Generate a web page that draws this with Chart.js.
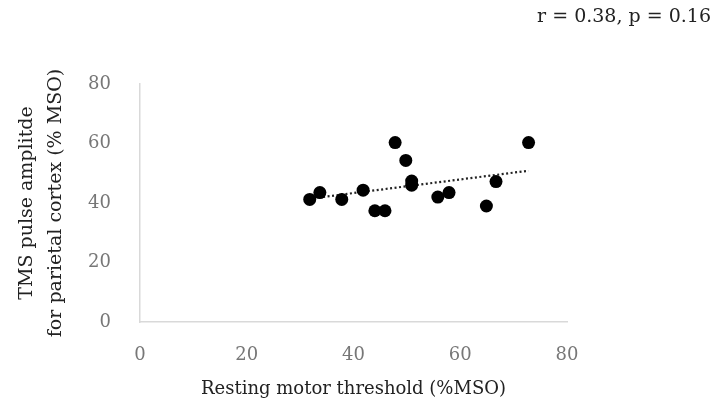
<!DOCTYPE html>
<html>
<head>
<meta charset="utf-8">
<script src="https://cdn.jsdelivr.net/npm/chart.js@4.4.0/dist/chart.umd.min.js"></script>
<style>
  html, body { margin: 0; padding: 0; background: #fff; }
  #wrap { width: 716px; height: 404px; }
</style>
</head>
<body>
<div id="wrap"><canvas id="chart" width="716" height="404"></canvas></div>
<script>
// values
const motorThreshold = [31.8, 33.7, 37.8, 41.8, 44.0, 45.9, 47.8, 49.8, 50.9, 50.9, 55.8, 57.9, 64.9, 66.7, 72.8]
const pulseAmplitude = [41.2, 43.5, 41.2, 44.3, 37.4, 37.4, 60.3, 54.3, 47.4, 46.0, 42.0, 43.5, 39.0, 47.2, 60.3]
const xTicks = [0, 20, 40, 60, 80]
const yTicks = [0, 20, 40, 60, 80]
const statsLabel = "r = 0.38, p = 0.16"
const xTitle = "Resting motor threshold (%MSO)"
const yTitle = ["TMS pulse amplitde", "for parietal cortex (% MSO)"]

const FONT = "'DejaVu Serif', Georgia, serif"

// linear trendline (least squares) over the points
function trendline(xs, ys) {
  const n = xs.length
  const mx = xs.reduce((s, v) => s + v, 0) / n
  const my = ys.reduce((s, v) => s + v, 0) / n
  let num = 0, den = 0
  xs.forEach((x, i) => { num += (x - mx) * (ys[i] - my); den += (x - mx) * (x - mx) })
  const slope = num / den
  const lo = Math.min(...xs), hi = Math.max(...xs)
  return [{ x: lo, y: my + slope * (lo - mx) }, { x: hi, y: my + slope * (hi - mx) }]
}

// stats text sits in the top right corner of the canvas, outside the plot
const statsText = {
  id: "statsText",
  afterDraw(chart) {
    const ctx = chart.ctx
    ctx.save()
    ctx.font = "19px " + FONT
    ctx.fillStyle = "#222"
    ctx.textAlign = "right"
    ctx.textBaseline = "middle"
    ctx.fillText(statsLabel, 711, 17)
    ctx.restore()
  },
}

const points = motorThreshold.map((x, i) => ({ x: x, y: pulseAmplitude[i] }))

new Chart(document.getElementById("chart"), {
  type: "scatter",
  data: {
    datasets: [
      {
        data: points,
        backgroundColor: "#000",
        borderColor: "#000",
        borderWidth: 0,
        pointRadius: 6.5,
        pointHoverRadius: 6.5,
      },
      {
        type: "line",
        data: trendline(motorThreshold, pulseAmplitude),
        borderColor: "#222",
        borderWidth: 2.2,
        borderDash: [2, 2.5],
        pointRadius: 0,
        fill: false,
      },
    ],
  },
  plugins: [statsText],
  options: {
    responsive: false,
    animation: false,
    layout: { padding: { left: 0, right: 149, top: 84, bottom: 0 } },
    plugins: {
      legend: { display: false },
      tooltip: { enabled: false },
    },
    scales: {
      x: {
        type: "linear",
        min: 0,
        max: 80,
        afterBuildTicks: (s) => { s.ticks = xTicks.map((v) => ({ value: v })) },
        afterFit: (s) => { s.height = 82 },
        grid: { display: false },
        border: { display: true, color: "#d9d9d9", width: 1.5 },
        ticks: { color: "#777", padding: 15, font: { family: FONT, size: 18 } },
        title: {
          display: true,
          text: xTitle,
          color: "#222",
          font: { family: FONT, size: 18 },
          padding: { top: 12 },
        },
      },
      y: {
        type: "linear",
        min: 0,
        max: 80,
        afterBuildTicks: (s) => { s.ticks = yTicks.map((v) => ({ value: v })) },
        afterFit: (s) => { s.width = 140 },
        grid: { display: false },
        border: { display: true, color: "#d9d9d9", width: 1.5 },
        ticks: { color: "#777", padding: 21, font: { family: FONT, size: 18 } },
        title: {
          display: true,
          text: yTitle,
          color: "#222",
          font: { family: FONT, size: 19, lineHeight: 1.55 },
          padding: { top: 12 },
        },
      },
    },
  },
})
</script>
</body>
</html>
